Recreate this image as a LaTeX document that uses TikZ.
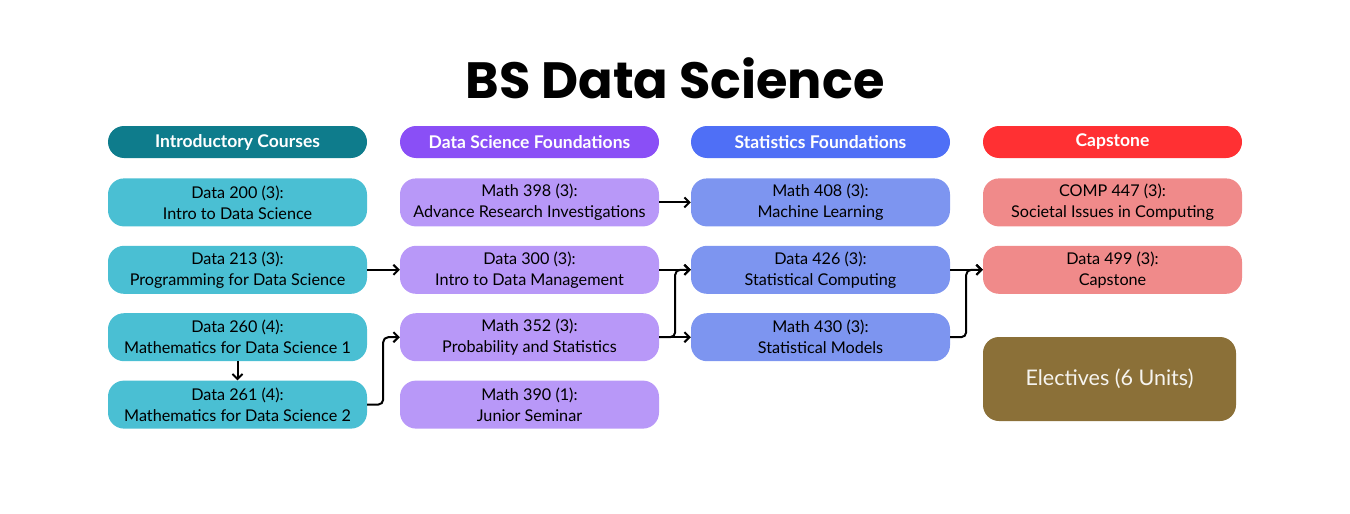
\documentclass[tikz,border=0pt]{standalone}
\usepackage{fontspec}
\setmainfont{Lato}
\newfontfamily\titlefont{Poppins}
\usetikzlibrary{positioning,arrows.meta}
\definecolor{introhead}{HTML}{0E7C8C}
\definecolor{introbox}{HTML}{4ABFD3}
\definecolor{dshead}{HTML}{8A4FF6}
\definecolor{dsbox}{HTML}{B898F8}
\definecolor{stathead}{HTML}{4F6FF6}
\definecolor{statbox}{HTML}{7D95F0}
\definecolor{caphead}{HTML}{FF3033}
\definecolor{capbox}{HTML}{F08A8A}
\definecolor{elective}{HTML}{8B7038}
\tikzset{
  header/.style = {rounded corners = 16pt, minimum width = 259pt, minimum height = 32pt, inner sep = 0pt, text = white, font = \bfseries\fontsize{17.5}{20}\selectfont},
  course/.style = {rounded corners = 16pt, minimum width = 259pt, minimum height = 48pt, inner sep = 0pt, align = center, font = \fontsize{16.2}{21}\selectfont},
  link/.style = {-{Straight Barb[length=5pt,width=10pt]}, line width = 2pt, rounded corners = 5pt}
}
\begin{document}
\begin{tikzpicture}[x=1pt, y=-1pt, node distance = 19pt]
\useasboundingbox (0,0) rectangle (1350,514);
\node[font = \titlefont\bfseries\fontsize{51}{56}\selectfont] (title) at (675,78) {BS Data Science};
% column headers
\node[header, fill = introhead] (c1h) at (237.5,142) {Introductory Courses};
\node[header, fill = dshead] (c2h) at (529.5,142) {Data Science Foundations};
\node[header, fill = stathead] (c3h) at (820.5,142) {Statistics Foundations};
\node[header, fill = caphead] (c4h) at (1112.5,142) {Capstone};
% introductory courses
\node[course, fill = introbox, below = 20pt of c1h] (c1r1) {Data 200 (3):\\Intro to Data Science};
\node[course, fill = introbox, below = of c1r1] (c1r2) {Data 213 (3):\\Programming for Data Science};
\node[course, fill = introbox, below = of c1r2] (c1r3) {Data 260 (4):\\Mathematics for Data Science 1};
\node[course, fill = introbox, below = of c1r3] (c1r4) {Data 261 (4):\\Mathematics for Data Science 2};
% data science foundations
\node[course, fill = dsbox, below = 20pt of c2h] (c2r1) {Math 398 (3):\\Advance Research Investigations};
\node[course, fill = dsbox, below = of c2r1] (c2r2) {Data 300 (3):\\Intro to Data Management};
\node[course, fill = dsbox, below = of c2r2] (c2r3) {Math 352 (3):\\Probability and Statistics};
\node[course, fill = dsbox, below = of c2r3] (c2r4) {Math 390 (1):\\Junior Seminar};
% statistics foundations
\node[course, fill = statbox, below = 20pt of c3h] (c3r1) {Math 408 (3):\\Machine Learning};
\node[course, fill = statbox, below = of c3r1] (c3r2) {Data 426 (3):\\Statistical Computing};
\node[course, fill = statbox, below = of c3r2] (c3r3) {Math 430 (3):\\Statistical Models};
% capstone
\node[course, fill = capbox, below = 20pt of c4h] (c4r1) {COMP 447 (3):\\Societal Issues in Computing};
\node[course, fill = capbox, below = of c4r1] (c4r2) {Data 499 (3):\\Capstone};
\node[course, fill = elective, minimum width = 253pt, minimum height = 84pt, text = white!92!elective, font = \fontsize{21.5}{24}\selectfont] (elec) at (1109.5,379) {Electives (6 Units)};
% prerequisites
\draw[link] (c1r2.east) -- (c2r2.west);
\draw[link] (c1r3.south) -- (c1r4.north);
\draw[link] (c1r4.east) -- ++(16,0) |- (c2r3.west);
\draw[link] (c2r1.east) -- (c3r1.west);
\draw[link] (c2r2.east) -- (c3r2.west);
\draw[link] (c2r3.east) -- (c3r3.west);
\draw[link] (c2r3.east) -- ++(16,0) |- (c3r2.west);
\draw[link] (c3r2.east) -- (c4r2.west);
\draw[link] (c3r3.east) -- ++(16,0) |- (c4r2.west);
\end{tikzpicture}
\end{document}
